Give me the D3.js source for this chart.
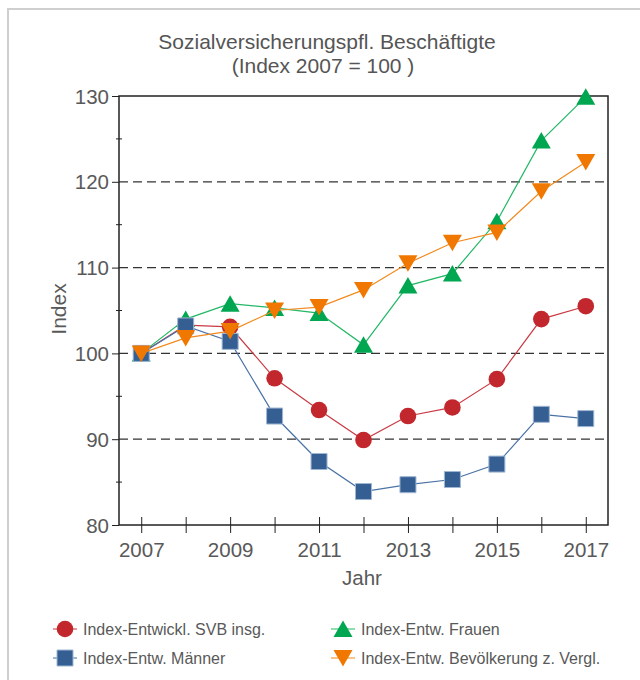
<!DOCTYPE html>
<html>
<head>
<meta charset="utf-8">
<script src="https://cdn.jsdelivr.net/npm/d3@7"></script>
<style>
  body { margin: 0; background: #fff; }
  svg { display: block; font-family: "Liberation Sans", Arial, sans-serif; }
  .tick text { fill: #595959; }
</style>
</head>
<body>
<svg id="chart" width="640" height="680"></svg>
<script>
// chart data
let years = [2007, 2008, 2009, 2010, 2011, 2012, 2013, 2014, 2015, 2016, 2017];
let svbInsg = [100, 103.3, 103.1, 97.1, 93.4, 89.9, 92.7, 93.7, 97.0, 104.0, 105.5];
let maenner = [100, 103.2, 101.4, 92.7, 87.4, 83.9, 84.7, 85.3, 87.1, 92.9, 92.4];
let frauen = [100, 104.0, 105.8, 105.3, 104.7, 101.0, 107.9, 109.3, 115.4, 124.8, 129.9];
let bevoelkerung = [100, 101.8, 102.6, 105.0, 105.4, 107.4, 110.5, 112.9, 114.1, 118.9, 122.3];
let yTicks = [80, 90, 100, 110, 120, 130];
let xTicks = [2007, 2009, 2011, 2013, 2015, 2017];
let gridValues = [90, 100, 110, 120];

let series = [
    {name: 'Index-Entwickl. SVB insg.', values: svbInsg, shape: 'circle', fill: '#c1272d', line: '#c93a44', legendLine: '#e39a9e', stroke: 'none'},
    {name: 'Index-Entw. Frauen', values: frauen, shape: 'up', fill: '#00a650', line: '#22b865', legendLine: '#8fdcae', stroke: 'none'},
    {name: 'Index-Entw. Männer', values: maenner, shape: 'square', fill: '#355f92', line: '#4a72a6', legendLine: '#9fb6d3', stroke: '#9fb6d3'},
    {name: 'Index-Entw. Bevölkerung z. Vergl.', values: bevoelkerung, shape: 'down', fill: '#f07800', line: '#f28a1e', legendLine: '#f9c38a', stroke: 'none'}
];

let svg = d3.select('#chart');
let plotLeft = 119, plotRight = 608, plotTop = 96, plotBottom = 525;

let x = d3.scaleLinear().domain([2006.5, 2017.5]).range([plotLeft, plotRight]);
let y = d3.scaleLinear().domain([80, 130]).range([plotBottom, plotTop]);

// outer frame of the widget
svg.append('rect')
    .attr('x', 8).attr('y', 9)
    .attr('width', 700).attr('height', 700)
    .attr('fill', 'none')
    .attr('stroke', '#cfcfcf')
    .attr('stroke-width', 2);

// title
svg.append('text')
    .attr('x', 327).attr('y', 49)
    .attr('text-anchor', 'middle')
    .attr('font-size', 21).attr('fill', '#555')
    .text('Sozialversicherungspfl. Beschäftigte');
svg.append('text')
    .attr('x', 323).attr('y', 73)
    .attr('text-anchor', 'middle')
    .attr('font-size', 21).attr('fill', '#555')
    .text('(Index 2007 = 100 )');

// dashed gridlines
svg.append('g').selectAll('line')
    .data(gridValues)
    .enter().append('line')
        .attr('x1', plotLeft).attr('x2', plotRight)
        .attr('y1', function(d){return y(d);})
        .attr('y2', function(d){return y(d);})
        .attr('stroke', '#333')
        .attr('stroke-width', 1.2)
        .attr('stroke-dasharray', '9,5');

// minor y ticks
svg.append('g').selectAll('line')
    .data([85, 95, 105, 115, 125])
    .enter().append('line')
        .attr('x1', plotLeft - 3).attr('x2', plotLeft + 3)
        .attr('y1', function(d){return y(d);})
        .attr('y2', function(d){return y(d);})
        .attr('stroke', '#222');

// y axis
let yAxis = svg.append('g')
    .attr('transform', 'translate(' + plotLeft + ',0)')
    .call(d3.axisLeft(y).tickValues(yTicks).tickSize(7).tickPadding(3).tickFormat(d3.format('d')));
yAxis.selectAll('text').attr('font-size', 20.5).attr('dy', '0.35em');
yAxis.select('.domain').remove();
yAxis.selectAll('.tick line').attr('stroke', '#222');

// x axis, ticks cross the baseline
let xAxis = svg.append('g')
    .attr('transform', 'translate(0,' + (plotBottom - 8) + ')')
    .call(d3.axisBottom(x).tickValues(years).tickSize(16).tickPadding(0).tickFormat(function(d){ return xTicks.indexOf(d) >= 0 ? d : ''; }));
xAxis.select('.domain').remove();
xAxis.selectAll('.tick line').attr('stroke', '#222');
xAxis.selectAll('text').attr('font-size', 20.5).attr('y', 40).attr('dy', 0);

// plot frame
svg.append('rect')
    .attr('x', plotLeft).attr('y', plotTop)
    .attr('width', plotRight - plotLeft).attr('height', plotBottom - plotTop)
    .attr('fill', 'none')
    .attr('stroke', '#222')
    .attr('stroke-width', 1.5);

// axis titles
svg.append('text')
    .attr('transform', 'translate(66,309) rotate(-90)')
    .attr('text-anchor', 'middle')
    .attr('font-size', 21).attr('fill', '#595959')
    .text('Index');
svg.append('text')
    .attr('x', 362).attr('y', 585)
    .attr('text-anchor', 'middle')
    .attr('font-size', 20.5).attr('fill', '#595959')
    .text('Jahr');

// marker shapes
function markerPath(shape) {
    if (shape == 'circle') return d3.symbol().type(d3.symbolCircle).size(Math.PI * 8.3 * 8.3)();
    if (shape == 'square') return 'M-8,-8L8,-8L8,8L-8,8Z';
    if (shape == 'up') return 'M0,-8.5L9.5,8L-9.5,8Z';
    return 'M0,8.5L9.5,-8L-9.5,-8Z';
}

let line = d3.line()
    .x(function(d, i){ return x(years[i]); })
    .y(function(d){ return y(d); });

// series lines and markers
series.forEach(function(s) {
    let g = svg.append('g');
    g.append('path')
        .attr('d', line(s.values))
        .attr('fill', 'none')
        .attr('stroke', s.line)
        .attr('stroke-width', 1.2);
    g.selectAll('path.mark')
        .data(s.values)
        .enter().append('path')
            .attr('class', 'mark')
            .attr('d', markerPath(s.shape))
            .attr('transform', function(d, i){ return 'translate(' + x(years[i]) + ',' + y(d) + ')'; })
            .attr('fill', s.fill)
            .attr('stroke', s.stroke)
            .attr('stroke-width', 1);
});

// legend
let legendItems = [
    {s: series[0], x: 65, y: 629},
    {s: series[1], x: 343, y: 629},
    {s: series[2], x: 65, y: 658},
    {s: series[3], x: 343, y: 658}
];
let legend = svg.append('g').selectAll('g')
    .data(legendItems)
    .enter().append('g')
        .attr('transform', function(d){ return 'translate(' + d.x + ',' + d.y + ')'; });
legend.append('line')
    .attr('x1', -12).attr('x2', 12)
    .attr('stroke', function(d){ return d.s.legendLine; })
    .attr('stroke-width', 2);
legend.append('path')
    .attr('d', function(d){ return markerPath(d.s.shape); })
    .attr('fill', function(d){ return d.s.fill; })
    .attr('stroke', function(d){ return d.s.stroke; });
legend.append('text')
    .attr('x', 18).attr('dy', '0.35em')
    .attr('font-size', 16).attr('fill', '#595959')
    .text(function(d){ return d.s.name; });
</script>
</body>
</html>
